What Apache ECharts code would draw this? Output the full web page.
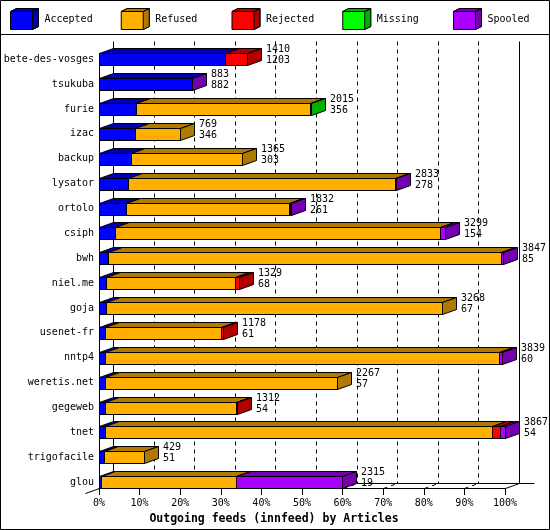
<!DOCTYPE html>
<html>
<head>
<meta charset="utf-8">
<script src="https://cdn.jsdelivr.net/npm/echarts@6/dist/echarts.min.js"></script>
<style>
html,body{margin:0;padding:0;background:#fff;}
#chart{width:550px;height:530px;}
</style>
</head>
<body>
<div id="chart"></div>
<script>
// ---- data ----
const names = ['bete-des-vosges','tsukuba','furie','izac','backup','lysator','ortolo','csiph','bwh','niel.me','goja','usenet-fr','nntp4','weretis.net','gegeweb','tnet','trigofacile','glou'];
const totals   = [1410, 883, 2015, 769, 1365, 2833, 1832, 3299, 3847, 1329, 3268, 1178, 3839, 2267, 1312, 3867, 429, 2315];
const accepted = [1203, 882,  356, 346,  303,  278,  261,  154,   85,   68,   67,   61,   60,   57,   54,   54,  51,   19];
const refused  = [   0,   0, 1649, 423, 1062, 2540, 1546, 3090, 3741, 1230, 3201, 1098, 3754, 2210, 1248, 3692, 378, 1284];
const rejected = [ 207,   0,    0,   0,    0,    0,    0,    0,    0,   31,    0,   19,    0,    0,   10,   76,   0,    0];
const missing  = [   0,   0,   10,   0,    0,    0,   15,    0,    0,    0,    0,    0,    0,    0,    0,    0,   0,    0];
const spooled  = [   0,   1,    0,   0,    0,   15,   10,   55,   21,    0,    0,    0,   25,    0,    0,   45,   0, 1012];
const statusNames = ['Accepted','Refused','Rejected','Missing','Spooled'];
const xTicks = [0,10,20,30,40,50,60,70,80,90,100];

// ---- styles ----
const FONT = '"DejaVu Sans Mono", monospace';
const frontColors = ['#0000ff','#ffb000','#ff0000','#00ff00','#aa00ff'];
const darkColors  = ['#0000b0','#b07900','#b00000','#00b000','#7500b0'];
const DX = 14, DY = 5, HALF = 6;

const statusValues = [accepted, refused, rejected, missing, spooled];
const maxTotal = Math.max(...totals);
const pct = v => v / maxTotal * 100;

// segments per status: [startPct, endPct, row, isLast]
const segData = statusValues.map(() => []);
names.forEach((n, r) => {
  let lastIdx = -1;
  statusValues.forEach((arr, s) => { if (arr[r] > 0) lastIdx = s; });
  let cum = 0;
  statusValues.forEach((arr, s) => {
    const v = arr[r];
    if (v > 0) {
      segData[s].push([pct(cum), pct(cum + v), r, s === lastIdx ? 1 : 0]);
      cum += v;
    }
  });
});
const labelData = names.map((n, r) => {
  const sum = statusValues.reduce((a, arr) => a + arr[r], 0);
  return [pct(sum), r, totals[r], accepted[r]];
});

const h = v => Math.round(v) + 0.5;

function segRender(s) {
  return function (params, api) {
    const st = api.value(0), en = api.value(1), r = api.value(2), last = api.value(3);
    const p0 = api.coord([st, r]), p1 = api.coord([en, r]);
    const x0 = h(p0[0]), x1 = Math.max(h(p1[0]), x0);
    const yT = h(p0[1] - HALF), yB = h(p0[1] + HALF);
    const line = {stroke: '#000', lineWidth: 1};
    const children = [
      {type: 'rect', shape: {x: x0, y: yT, width: x1 - x0, height: yB - yT},
       style: Object.assign({fill: frontColors[s]}, line)},
      {type: 'polygon', shape: {points: [[x0, yT], [x1, yT], [x1 + DX, yT - DY], [x0 + DX, yT - DY]]},
       style: Object.assign({fill: darkColors[s]}, line)}
    ];
    if (last) {
      children.push({type: 'polygon', shape: {points: [[x1, yT], [x1 + DX, yT - DY], [x1 + DX, yB - DY], [x1, yB]]},
        style: Object.assign({fill: darkColors[s]}, line)});
    }
    return {type: 'group', children};
  };
}

function frameRender(params, api) {
  const cs = params.coordSys;
  const n = names.length;
  const floorY = h(api.coord([0, n - 1])[1] + HALF);
  const topBack = h(cs.y - 6);
  const firstTop = h(api.coord([0, 0])[1] - HALF);
  const children = [];
  const solid = {stroke: '#000', lineWidth: 1};
  const dashed = {stroke: '#000', lineWidth: 1, lineDash: [4, 4]};
  xTicks.forEach((t, k) => {
    const xf = h(api.coord([t, 0])[0]);
    const xb = xf + DX;
    const edge = (k === 0 || k === xTicks.length - 1);
    children.push({type: 'line', shape: {x1: xb, y1: topBack, x2: xb, y2: floorY - DY}, style: edge ? solid : dashed});
    if (k === 0) {
      children.push({type: 'line', shape: {x1: xb, y1: floorY - DY, x2: xf - DX, y2: floorY + DY}, style: solid});
      children.push({type: 'line', shape: {x1: xf, y1: firstTop, x2: xf, y2: floorY}, style: solid});
    } else {
      children.push({type: 'line', shape: {x1: xf, y1: floorY, x2: xb, y2: floorY - DY}, style: edge ? solid : dashed});
    }
  });
  const xb0 = h(api.coord([xTicks[0], 0])[0]) + DX;
  const xbN = h(api.coord([xTicks[xTicks.length - 1], 0])[0]) + DX;
  children.push({type: 'line', shape: {x1: xb0, y1: floorY - DY, x2: xbN + 15, y2: floorY - DY}, style: solid});
  return {type: 'group', children};
}

function labelRender(params, api) {
  const en = api.value(0), r = api.value(1);
  const p = api.coord([en, r]);
  return {
    type: 'text', x: Math.round(p[0]) + DX + 5, y: Math.round(p[1]) - 4,
    style: {text: api.value(2) + '\n' + api.value(3), fill: '#000', font: '10px ' + FONT,
            align: 'left', verticalAlign: 'middle', lineHeight: 11.3}
  };
}

const cubeFull = 'path://M0,3 L6,0 L28,0 L28,18 L22,21 L0,21 Z';
const cubeDark = 'path://M0,3 L6,0 L28,0 L22,3 Z M22,3 L28,0 L28,18 L22,21 Z';
const lastStatus = statusNames[statusNames.length - 1];

function legendCfg(textColor, colors, icon, z) {
  return {
    left: 10, top: 8, width: 540, padding: 0, itemWidth: 28, itemHeight: 21, itemGap: 4,
    selectedMode: false, z: z,
    itemStyle: {borderColor: '#000', borderWidth: 1},
    formatter: name => name === lastStatus ? name : name.padEnd(12, '\u00a0'),
    textStyle: {fontFamily: FONT, fontSize: 10, color: textColor, padding: [2, 0, 0, 1]},
    data: statusNames.map((nm, i) => ({name: nm, icon: icon, itemStyle: {color: colors[i]}}))
  };
}

const chart = echarts.init(document.getElementById('chart'), null, {renderer: 'canvas'});
chart.setOption({
  animation: false,
  backgroundColor: '#fff',
  graphic: [
    {type: 'rect', shape: {x: 0.5, y: 0.5, width: 549, height: 529}, style: {fill: 'none', stroke: '#000', lineWidth: 1}, z: 100},
    {type: 'line', shape: {x1: 0, y1: 34.5, x2: 550, y2: 34.5}, style: {stroke: '#000', lineWidth: 1}, z: 100}
  ],
  legend: [
    legendCfg('#000', frontColors, cubeFull, 10),
    legendCfg('rgba(0,0,0,0)', darkColors, cubeDark, 11)
  ],
  grid: {left: 99, right: 45, top: 46.8, bottom: 33.2, containLabel: false},
  xAxis: {
    type: 'value', min: 0, max: 100, interval: 10, offset: -6.5,
    axisLine: {show: true, onZero: false, lineStyle: {color: '#000', width: 1}},
    axisTick: {show: true, length: 7, lineStyle: {color: '#000'}},
    axisLabel: {formatter: '{value}%', fontFamily: FONT, fontSize: 10, color: '#000', margin: 10},
    splitLine: {show: false},
    name: 'Outgoing feeds (innfeed) by Articles', nameLocation: 'middle', nameGap: 24,
    nameTextStyle: {fontFamily: FONT, fontSize: 11.5, fontWeight: 'bold', color: '#000', padding: [0, 56, 0, 0]}
  },
  yAxis: {
    type: 'category', inverse: true, data: names,
    axisLine: {show: false}, axisTick: {show: false}, splitLine: {show: false},
    axisLabel: {fontFamily: FONT, fontSize: 10, color: '#000', margin: 5}
  },
  series: [
    {type: 'custom', name: 'frame', silent: true, z: 1, data: [[0, 0]], renderItem: frameRender,
     encode: {x: 0, y: 1}}
  ].concat(statusNames.map((nm, s) => ({
    type: 'custom', name: nm, z: 2, data: segData[s], renderItem: segRender(s),
    itemStyle: {color: frontColors[s]}, encode: {x: [0, 1], y: 2}
  }))).concat([
    {type: 'custom', name: 'labels', silent: true, z: 3, data: labelData, renderItem: labelRender,
     encode: {x: 0, y: 1}}
  ])
});
</script>
</body>
</html>
